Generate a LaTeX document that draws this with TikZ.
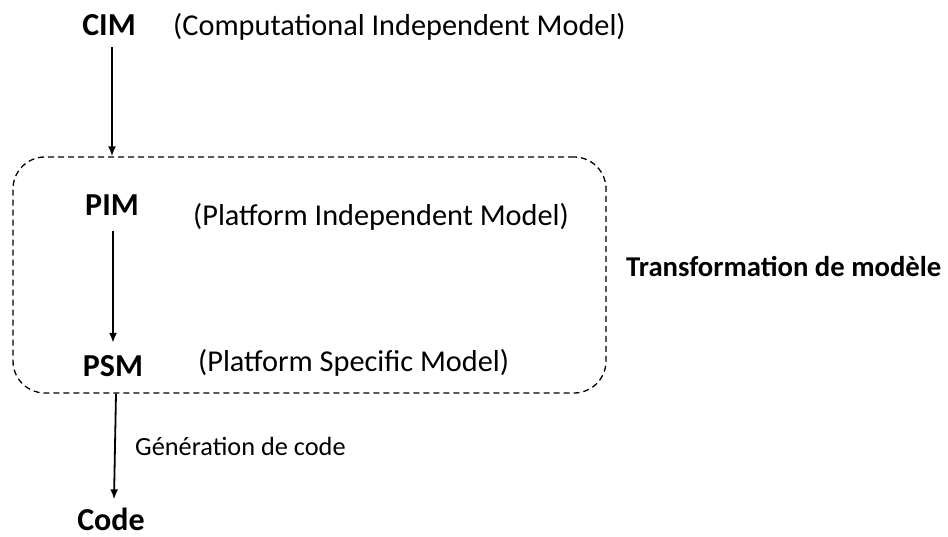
\documentclass[tikz,border=0pt]{standalone}
\usepackage{fontspec}
\setmainfont{Carlito}
\usetikzlibrary{arrows.meta}
\tikzstyle{model} = [font=\fontsize{32}{35}\selectfont\bfseries,inner sep=0pt,anchor=base]
\tikzstyle{desc} = [font=\fontsize{30.3}{33}\selectfont,inner sep=0pt,anchor=base west]
\tikzstyle{flow} = [-{Latex[length=10pt,width=8pt]},line width=1.8pt]

\begin{document}
\begin{tikzpicture}[x=1pt,y=-1pt]
		\useasboundingbox (0,0) rectangle (948,537);
		\node [draw,dashed,dash pattern=on 6pt off 4pt,line width=1.3pt,rounded corners=32pt,minimum width=593pt,minimum height=236pt,inner sep=0pt](box) at (309.5,275){};
		\node [model](cim) at (109,36){CIM};
		\node [desc](cimd) at (173,36){(Computational Independent Model)};
		\node [model](pim) at (112,216){PIM};
		\node [desc](pimd) at (193,226){(Platform Independent Model)};
		\node [model](psm) at (113,377){PSM};
		\node [desc](psmd) at (198,371){(Platform Specific Model)};
		\node [model](code) at (111,530){Code};
		\node [model,anchor=base west,font=\fontsize{28.7}{32}\selectfont\bfseries](trans) at (626,277){Transformation de modèle};
		
		\draw[flow]([xshift=3pt,yshift=-11pt]cim.south)--([xshift=3pt]cim.south |- box.north);
		\draw[flow]([xshift=1pt,yshift=-15pt]pim.south)--([yshift=13pt]psm.north);
		\draw[flow]([xshift=3pt]psm.south |- box.south)--node[right,xshift=16pt,font=\fontsize{26.3}{29}\selectfont]{Génération de code}([xshift=3pt,yshift=8pt]code.north);
		\end{tikzpicture}
\end{document}
